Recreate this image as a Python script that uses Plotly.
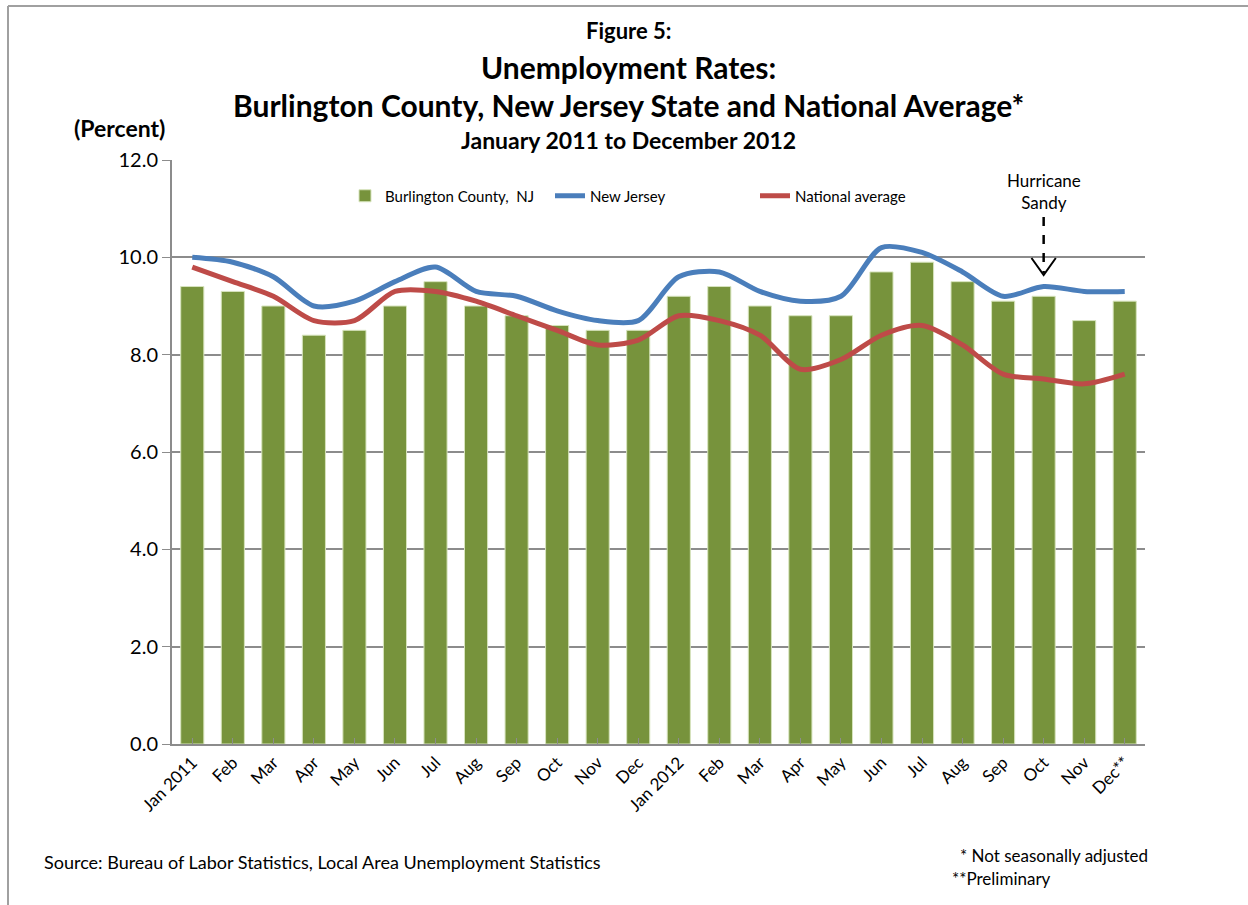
import plotly.graph_objects as go

months = ["Jan 2011", "Feb", "Mar", "Apr", "May", "Jun", "Jul", "Aug", "Sep", "Oct", "Nov", "Dec",
          "Jan 2012", "Feb", "Mar", "Apr", "May", "Jun", "Jul", "Aug", "Sep", "Oct", "Nov", "Dec**"]
burlington = [9.4, 9.3, 9.0, 8.4, 8.5, 9.0, 9.5, 9.0, 8.8, 8.6, 8.5, 8.5,
              9.2, 9.4, 9.0, 8.8, 8.8, 9.7, 9.9, 9.5, 9.1, 9.2, 8.7, 9.1]
new_jersey = [10.0, 9.9, 9.6, 9.0, 9.1, 9.5, 9.8, 9.3, 9.2, 8.9, 8.7, 8.7,
              9.6, 9.7, 9.3, 9.1, 9.2, 10.2, 10.1, 9.7, 9.2, 9.4, 9.3, 9.3]
national = [9.8, 9.5, 9.2, 8.7, 8.7, 9.3, 9.3, 9.1, 8.8, 8.5, 8.2, 8.3,
            8.8, 8.7, 8.4, 7.7, 7.9, 8.4, 8.6, 8.2, 7.6, 7.5, 7.4, 7.6]
yticks = [0, 2, 4, 6, 8, 10, 12]
sandy_month = 21  # Oct 2012

FONT = "Lato"
L, R, T, B = 172, 1145, 160, 744
W, H = R - L, B - T


def px(xp):
    return (xp - L) / W


def py(yp):
    return (B - yp) / H


xs = list(range(len(months)))

fig = go.Figure()
fig.add_trace(go.Bar(x=xs, y=burlington, name="Burlington County,  NJ",
                     marker=dict(color="#77933C", line=dict(color="#D7E4BD", width=1)),
                     width=0.57))
fig.add_trace(go.Scatter(x=xs, y=new_jersey, name="New Jersey", mode="lines",
                         line=dict(color="#4A7EBB", width=5, shape="spline", smoothing=0.8)))
fig.add_trace(go.Scatter(x=xs, y=national, name="National average", mode="lines",
                         line=dict(color="#BE4B48", width=5, shape="spline", smoothing=0.8)))

annotations = [
    dict(text="<b>Figure 5:</b>", x=px(628), y=py(30), font=dict(size=22)),
    dict(text="<b>Unemployment Rates:</b>", x=px(628), y=py(67), font=dict(size=30)),
    dict(text="<b>Burlington County, New Jersey State and National Average*</b>", x=px(628), y=py(105),
         font=dict(size=30)),
    dict(text="<b>January 2011 to December 2012</b>", x=px(628), y=py(140), font=dict(size=23)),
    dict(text="<b>(Percent)</b>", x=px(119), y=py(128), font=dict(size=23)),
    dict(text="Source: Bureau of Labor Statistics, Local Area Unemployment Statistics", x=px(42), y=py(862),
         xanchor="left", font=dict(size=18)),
    dict(text="* Not seasonally adjusted", x=px(958), y=py(856), xanchor="left", font=dict(size=17)),
    dict(text="**Preliminary", x=px(950), y=py(878), xanchor="left", font=dict(size=17)),
]
anns = []
for a in annotations:
    d = dict(xref="paper", yref="paper", showarrow=False, xanchor="center", yanchor="middle")
    d.update(a)
    d["font"] = dict(family=FONT, color="black", size=a["font"]["size"])
    anns.append(d)
anns.append(dict(text="Hurricane<br>Sandy", xref="x", yref="paper", x=sandy_month, y=py(191),
                 showarrow=False, xanchor="center", yanchor="middle",
                 font=dict(family=FONT, size=17, color="black")))

shapes = [
    dict(type="line", xref="x", yref="paper", x0=sandy_month, x1=sandy_month, y0=py(217), y1=py(273),
         line=dict(color="black", width=2.5, dash="dash")),
    dict(type="path", xref="x", yref="paper",
         path=f"M {sandy_month-0.3},{py(258)} L {sandy_month},{py(275)} L {sandy_month+0.3},{py(258)}",
         line=dict(color="black", width=2)),
    dict(type="line", xref="paper", yref="paper", x0=px(8), x1=px(1260), y0=py(6), y1=py(6),
         line=dict(color="#A0A0A0", width=2)),
    dict(type="line", xref="paper", yref="paper", x0=px(8), x1=px(8), y0=py(6), y1=py(920),
         line=dict(color="#A0A0A0", width=2)),
]

fig.update_layout(
    width=1248, height=905,
    margin=dict(l=L, r=1248 - R, t=T, b=905 - B, autoexpand=False),
    paper_bgcolor="white", plot_bgcolor="white",
    font=dict(family=FONT, color="black"),
    showlegend=True,
    legend=dict(orientation="h", x=px(345), y=py(196), xanchor="left", yanchor="middle",
                font=dict(family=FONT, size=15, color="black"), entrywidth=160,
                bgcolor="rgba(0,0,0,0)", traceorder="normal"),
    annotations=anns, shapes=shapes,
    bargap=0.43,
)
fig.update_xaxes(range=[-0.5, len(months) - 0.5], tickmode="array", tickvals=xs, ticktext=months,
                 tickangle=-45, tickfont=dict(family=FONT, size=17, color="black"),
                 showline=True, linecolor="#8C8C8C", linewidth=2, ticks="inside", ticklen=6,
                 tickcolor="#8C8C8C", showgrid=False, zeroline=False)
fig.update_yaxes(range=[0, 12], tickvals=yticks, tickformat=".1f",
                 tickfont=dict(family=FONT, size=20, color="black"),
                 showline=True, linecolor="#8C8C8C", linewidth=2, ticks="outside", ticklen=8,
                 tickcolor="#8C8C8C", showgrid=True, gridcolor="#8C8C8C", gridwidth=1.5, zeroline=False)

fig.write_html("out.html", config={"displayModeBar": False},
               post_script="document.body.style.margin='0';")
